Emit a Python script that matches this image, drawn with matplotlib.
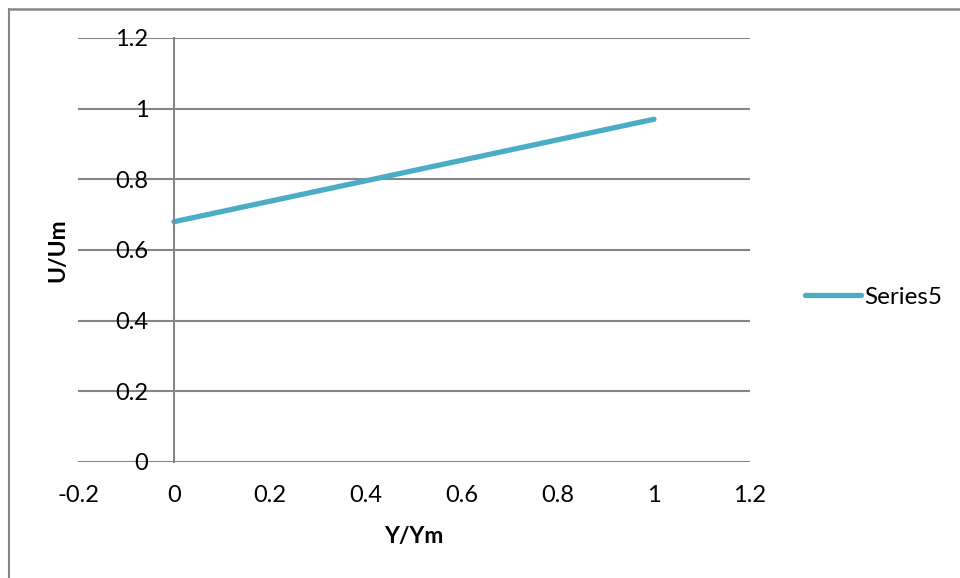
import matplotlib.pyplot as plt
from matplotlib.lines import Line2D
from matplotlib.ticker import FuncFormatter

# data
y_ratio = [0, 1]            # Y/Ym
u_ratio = [0.68, 0.97]      # U/Um
series_name = 'Series5'
x_ticks = [-0.2, 0, 0.2, 0.4, 0.6, 0.8, 1, 1.2]
y_ticks = [0, 0.2, 0.4, 0.6, 0.8, 1, 1.2]

grid_col = '#868686'
line_col = '#4BACC6'

plt.rcParams['font.family'] = ['Lato', 'DejaVu Sans']

fig = plt.figure(figsize=(9.6, 5.78), dpi=100)
ax = fig.add_axes([0.08125, 0.2007, 0.7, 0.7336])

ax.plot(y_ratio, u_ratio, color=line_col, lw=3.8, solid_capstyle='round', label=series_name)

ax.set_xlim(-0.2, 1.2)
ax.set_ylim(0, 1.2)
ax.set_xticks(x_ticks)
ax.set_yticks(y_ticks)
fmt = FuncFormatter(lambda v, p: ('%g' % round(v, 2)).replace('\u2212', '-'))
ax.xaxis.set_major_formatter(fmt)
ax.yaxis.set_major_formatter(fmt)

# horizontal gridlines only, vertical axis crossing at x = 0
ax.grid(axis='y', color=grid_col, lw=1.5)
ax.set_axisbelow(True)
for s in ['top', 'right', 'bottom']:
    ax.spines[s].set_visible(False)
ax.spines['left'].set_position(('data', 0))
ax.spines['left'].set_color(grid_col)
ax.spines['left'].set_linewidth(1.5)

ax.tick_params(axis='y', length=0, pad=18.5, labelsize=17)
ax.tick_params(axis='x', length=0, pad=16.5, labelsize=17)

ax.set_xlabel('Y/Ym', fontsize=16.5, fontweight='bold')
ax.set_ylabel('U/Um', fontsize=16.5, fontweight='bold')
ax.xaxis.set_label_coords(0.5, -0.150)
ax.yaxis.set_label_coords(-0.015, 0.5)

fig.legend(loc='center left', bbox_to_anchor=(0.8385, 0.486), frameon=False,
           fontsize=17.5, handlelength=2.3, handletextpad=0.15,
           borderpad=0, borderaxespad=0)

# outer chart border (left and top edges visible)
bx = 8.5 / 960
by = 1 - 9 / 578
fig.add_artist(Line2D([bx, bx], [0.0, by], transform=fig.transFigure,
                      color=grid_col, lw=1.5))
fig.add_artist(Line2D([bx, 1.0], [by, by], transform=fig.transFigure,
                      color=grid_col, lw=1.8))

fig.savefig('out.png', dpi=100)
